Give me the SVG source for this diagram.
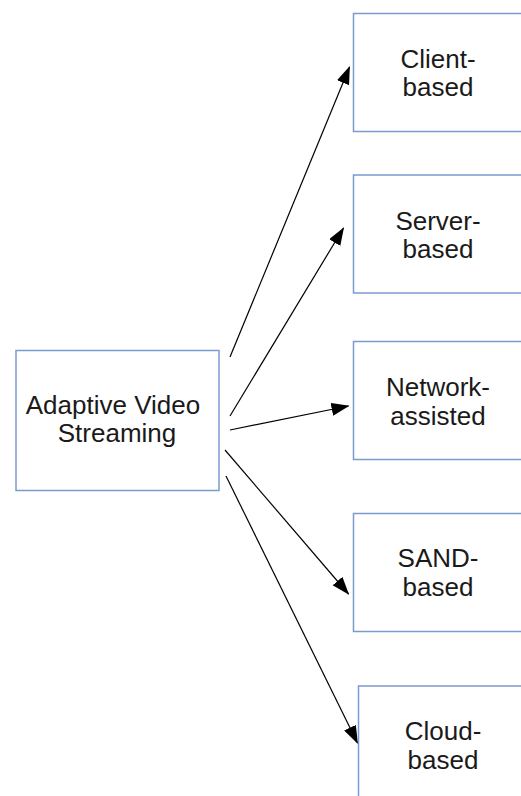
<svg xmlns="http://www.w3.org/2000/svg" width="521" height="796" viewBox="0 0 521 796">
<style>
.box{fill:#ffffff;stroke:#7b9bcf;stroke-width:1.5}
.lbl{font-family:"Liberation Sans",Arial,sans-serif;font-size:26px;fill:#1a1a1a;text-anchor:middle}
.edge{stroke:#000;stroke-width:1.2;fill:none;marker-end:url(#ah)}
</style>
<defs>
<marker id="ah" markerWidth="18" markerHeight="13" refX="17" refY="6.5" orient="auto" markerUnits="userSpaceOnUse">
<path d="M0,0 L18,6.5 L0,13 Z" fill="#000"/>
</marker>
</defs>
<rect width="521" height="796" fill="#fff"/>
<g id="connectors">
<line class="edge" x1="230" y1="357" x2="349.5" y2="67"/>
<line class="edge" x1="230" y1="416" x2="343.5" y2="228"/>
<line class="edge" x1="230" y1="430" x2="348.5" y2="406"/>
<line class="edge" x1="225" y1="450" x2="348.5" y2="594"/>
<line class="edge" x1="226" y1="476" x2="357.5" y2="743"/>
</g>
<g id="adaptive">
<rect class="box" x="16" y="350.5" width="203" height="140"/>
<text class="lbl" x="113" y="413.5">Adaptive Video</text>
<text class="lbl" x="117" y="442">Streaming</text>
</g>
<g id="client">
<rect class="box" x="353.5" y="13.5" width="172" height="118"/>
<text class="lbl" x="438" y="67.5">Client-</text>
<text class="lbl" x="438" y="96">based</text>
</g>
<g id="server">
<rect class="box" x="353.5" y="175" width="172" height="118"/>
<text class="lbl" x="438" y="229.5">Server-</text>
<text class="lbl" x="438" y="258">based</text>
</g>
<g id="network">
<rect class="box" x="353.5" y="341.5" width="172" height="118"/>
<text class="lbl" x="438" y="396">Network-</text>
<text class="lbl" x="438" y="424.5">assisted</text>
</g>
<g id="sand">
<rect class="box" x="353.5" y="513.5" width="172" height="118"/>
<text class="lbl" x="438" y="567">SAND-</text>
<text class="lbl" x="438" y="596">based</text>
</g>
<g id="cloud">
<rect class="box" x="358.5" y="686" width="172" height="118"/>
<text class="lbl" x="443" y="740">Cloud-</text>
<text class="lbl" x="443" y="768.5">based</text>
</g>
</svg>
